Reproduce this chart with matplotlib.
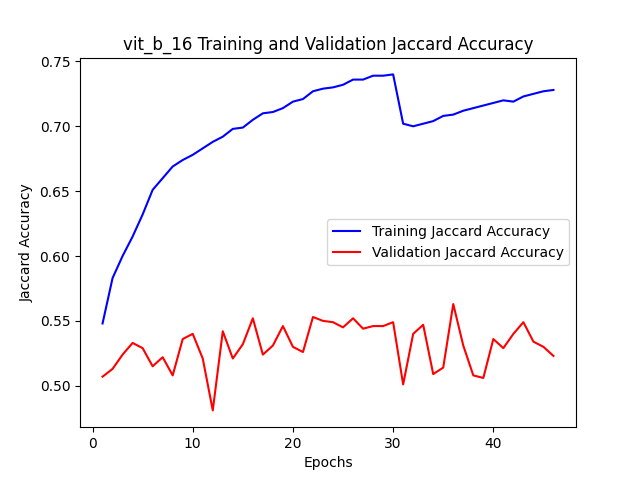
import matplotlib
matplotlib.use('Agg')
import matplotlib.pyplot as plt

epochs = list(range(1, 47))
train_acc = [0.548, 0.583, 0.600, 0.615, 0.632, 0.651, 0.660, 0.669, 0.674, 0.678,
             0.683, 0.688, 0.692, 0.698, 0.699, 0.705, 0.710, 0.711, 0.714, 0.719,
             0.721, 0.727, 0.729, 0.730, 0.732, 0.736, 0.736, 0.739, 0.739, 0.740,
             0.702, 0.700, 0.702, 0.704, 0.708, 0.709, 0.712, 0.714, 0.716, 0.718,
             0.720, 0.719, 0.723, 0.725, 0.727, 0.728]
val_acc = [0.507, 0.513, 0.524, 0.533, 0.529, 0.515, 0.522, 0.508, 0.536, 0.540,
           0.521, 0.481, 0.542, 0.521, 0.532, 0.552, 0.524, 0.531, 0.546, 0.530,
           0.526, 0.553, 0.550, 0.549, 0.545, 0.552, 0.544, 0.546, 0.546, 0.549,
           0.501, 0.540, 0.547, 0.509, 0.514, 0.563, 0.531, 0.508, 0.506, 0.536,
           0.529, 0.540, 0.549, 0.534, 0.530, 0.523]

fig, ax = plt.subplots(figsize=(6.4, 4.8), dpi=100)
ax.plot(epochs, train_acc, color='blue', label='Training Jaccard Accuracy')
ax.plot(epochs, val_acc, color='red', label='Validation Jaccard Accuracy')
ax.set_title('vit_b_16 Training and Validation Jaccard Accuracy')
ax.set_xlabel('Epochs')
ax.set_ylabel('Jaccard Accuracy')
ax.legend(loc='center right')
plt.savefig('out.png')
